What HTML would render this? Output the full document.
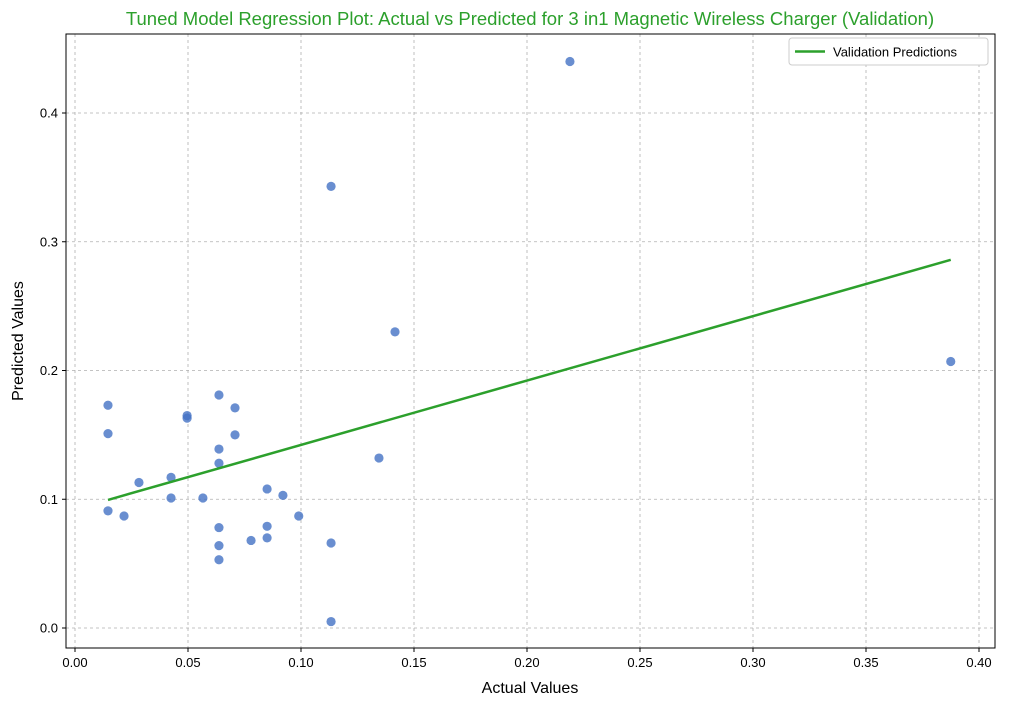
<!DOCTYPE html>
<html><head><meta charset="utf-8">
<style>
body{margin:0;background:#fff;font-family:"Liberation Sans","DejaVu Sans",sans-serif;}
svg text{font-family:"Liberation Sans","DejaVu Sans",sans-serif;}
</style></head>
<body>
<svg id="chart" width="1016" height="706" xmlns="http://www.w3.org/2000/svg">
<rect width="1016" height="706" fill="#fff"/>
<text x="530" y="25" text-anchor="middle" font-size="18.5" fill="#2ca02c">Tuned Model Regression Plot: Actual vs Predicted for 3 in1 Magnetic Wireless Charger (Validation)</text>
<g id="grid"></g>
<g id="marks"></g>
<rect x="66" y="34" width="929" height="614" fill="none" stroke="#000" stroke-width="1"/>
<g id="ticks"></g>
<text x="530" y="693" text-anchor="middle" font-size="16">Actual Values</text>
<text transform="translate(23,341) rotate(-90)" text-anchor="middle" font-size="16">Predicted Values</text>
<g>
<rect x="789" y="38" width="199" height="27" rx="3" fill="#fff" stroke="#ccc"/>
<line x1="795" y1="51.5" x2="825" y2="51.5" stroke="#2ca02c" stroke-width="2.5"/>
<text x="833" y="56.5" font-size="13">Validation Predictions</text>
</g>
</svg>
<script>
const actual=[0.0146,0.0146,0.0146,0.0217,0.0283,0.0425,0.0425,0.0496,0.0496,0.0566,0.0637,0.0637,0.0637,0.0637,0.0637,0.0637,0.0708,0.0708,0.0779,0.085,0.085,0.085,0.092,0.099,0.1133,0.1133,0.1133,0.1345,0.1416,0.219,0.3875];
const predicted=[0.173,0.151,0.091,0.087,0.113,0.117,0.101,0.165,0.163,0.101,0.181,0.139,0.128,0.078,0.064,0.053,0.171,0.150,0.068,0.108,0.079,0.070,0.103,0.087,0.343,0.066,0.005,0.132,0.230,0.440,0.207];
const lineSlope=[0.5];
const lineIntercept=[0.0922];
const xTicks=[0,0.05,0.10,0.15,0.20,0.25,0.30,0.35,0.40];
const yTicks=[0,0.1,0.2,0.3,0.4];
const xTickLabels=["0.00","0.05","0.10","0.15","0.20","0.25","0.30","0.35","0.40"];
const yTickLabels=["0.0","0.1","0.2","0.3","0.4"];

const NS="http://www.w3.org/2000/svg";
const X=v=>75+v*2260;
const Y=v=>628-v*1287.5;
function mk(tag,attrs,parent){const e=document.createElementNS(NS,tag);for(const k in attrs)e.setAttribute(k,attrs[k]);parent.appendChild(e);return e;}
const grid=document.getElementById('grid'),marks=document.getElementById('marks'),ticks=document.getElementById('ticks');
xTicks.forEach((t,i)=>{
 const g=mk('line',{x1:X(t),x2:X(t),y1:34,y2:648,stroke:'#b0b0b0','stroke-dasharray':'3,3','stroke-width':0.8},grid);
 
 
 mk('line',{x1:X(t),x2:X(t),y1:648,y2:652,stroke:'#000'},ticks);
 const tx=mk('text',{x:X(t),y:667,'text-anchor':'middle','font-size':13},ticks);
 tx.textContent=xTickLabels[i];
 
 
});
yTicks.forEach((t,i)=>{
 const g=mk('line',{x1:66,x2:995,y1:Y(t),y2:Y(t),stroke:'#b0b0b0','stroke-dasharray':'3,3','stroke-width':0.8},grid);
 
 
 mk('line',{x1:62,x2:66,y1:Y(t),y2:Y(t),stroke:'#000'},ticks);
 const tx=mk('text',{x:58,y:Y(t)+4.5,'text-anchor':'end','font-size':13},ticks);
 tx.textContent=yTickLabels[i];
 
 
});
actual.forEach((a,i)=>{
 const c=mk('circle',{cx:X(a),cy:Y(predicted[i]),r:4.6,fill:'#4472c4','fill-opacity':0.8},marks);
 
 
});
const xmin=Math.min(...actual),xmax=Math.max(...actual);
const ln=mk('line',{x1:X(xmin),y1:Y(lineSlope[0]*xmin+lineIntercept[0]),x2:X(xmax),y2:Y(lineSlope[0]*xmax+lineIntercept[0]),stroke:'#2ca02c','stroke-width':2.5},marks);


</script>
</body></html>
